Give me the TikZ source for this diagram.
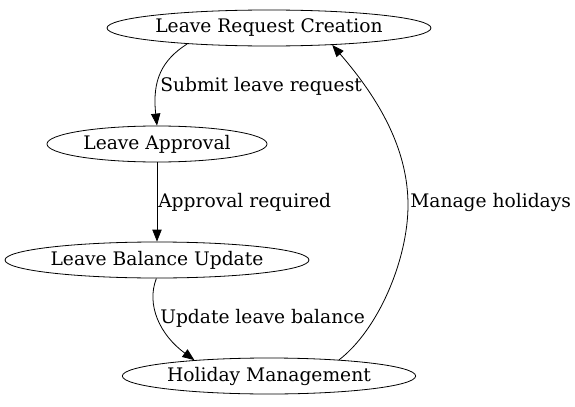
\documentclass[tikz,border=0pt]{standalone}
\usepackage{fontspec}
\setmainfont{DejaVu Serif}
\usetikzlibrary{shapes.geometric,arrows.meta}
\begin{document}
\begin{tikzpicture}[x=0.75pt,y=-0.75pt,
  state/.style={draw,ellipse,line width=0.6pt,inner sep=0pt,font=\fontsize{14}{16}\selectfont},
  lbl/.style={anchor=west,inner sep=0pt,font=\fontsize{14}{16}\selectfont},
  edge/.style={line width=0.6pt,-{Triangle[length=9pt,width=7pt]}}]
\useasboundingbox (0,0) rectangle (575,407);
\node[state,minimum width=243pt,minimum height=27pt] (req) at (269,28) {Leave Request Creation};
\node[state,minimum width=165pt,minimum height=27pt] (appr) at (157,144) {Leave Approval};
\node[state,minimum width=228pt,minimum height=27pt] (bal) at (157,260) {Leave Balance Update};
\node[state,minimum width=220pt,minimum height=27pt] (hol) at (269,376) {Holiday Management};
\draw[edge] (req.191) .. controls (162,60) and (152,80) .. (appr.north);
\node[lbl] (l1) at (160,86) {Submit leave request};
\draw[edge] (appr.south) -- (bal.north);
\node[lbl] (l2) at (158,202) {Approval required};
\draw[edge] (bal.268) .. controls (146,305) and (160,335) .. (hol.168);
\node[lbl] (l3) at (160,318) {Update leave balance};
\draw[edge] (hol.13.5) .. controls (378,330) and (408,260) .. (408,205)
  .. controls (408,150) and (380,100) .. (req.-15);
\node[lbl] (l4) at (410,202) {Manage holidays};
\end{tikzpicture}
\end{document}
